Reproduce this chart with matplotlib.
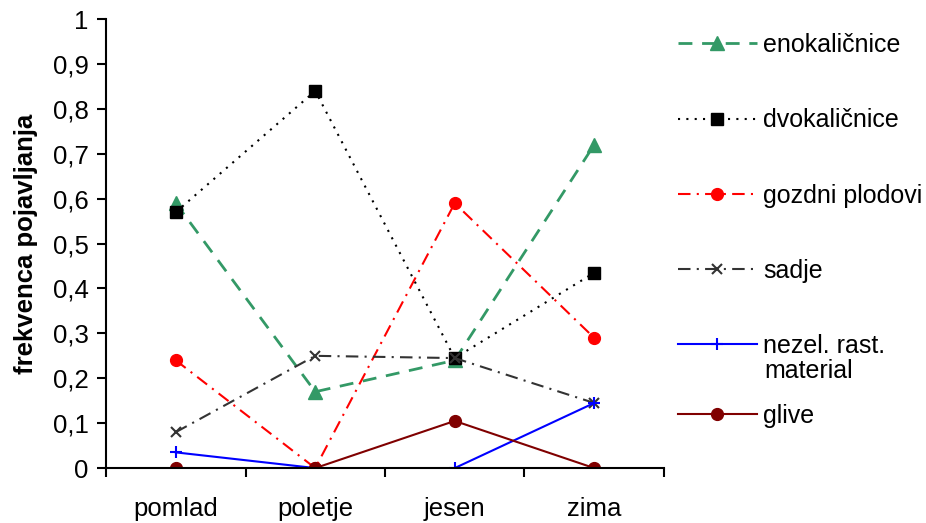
import numpy as np
import matplotlib.pyplot as plt

plt.rcParams['font.family'] = ['Liberation Sans', 'DejaVu Sans']

# -------------------------------------------
# Data
# -------------------------------------------
seasons = ["pomlad", "poletje", "jesen", "zima"]
enokalicnice = [0.59, 0.17, 0.24, 0.72]
dvokalicnice = [0.57, 0.84, 0.245, 0.435]
gozdni_plodovi = [0.24, 0.0, 0.59, 0.29]
sadje = [0.08, 0.25, 0.245, 0.145]
nezel_material = [0.035, 0.0, 0.0, 0.145]
glive = [0.0, 0.0, 0.105, 0.0]
y_ticks = [0, 0.1, 0.2, 0.3, 0.4, 0.5, 0.6, 0.7, 0.8, 0.9, 1]

FS = 18.5
LEG_FS = 18

fig = plt.figure(figsize=(9.26, 5.23), dpi=100)
ax = fig.add_axes([0.1145, 0.105, 0.6025, 0.8585])

x = np.arange(len(seasons))

ax.plot(x, enokalicnice, color='#339966', lw=2, dashes=(5, 3.5),
        marker='^', ms=10, label='enokaličnice')
ax.plot(x, dvokalicnice, color='black', lw=1.5, dashes=(1, 3),
        marker='s', ms=8.5, label='dvokaličnice')
ax.plot(x, gozdni_plodovi, color='#ff0000', lw=1.5, dashes=(6, 3, 1, 3),
        marker='o', ms=8.5, label='gozdni plodovi')
ax.plot(x, sadje, color='#333333', lw=1.5, dashes=(6, 3, 1, 3),
        marker='x', ms=7, mew=1.5, label='sadje')
ax.plot(x, nezel_material, color='#0000ff', lw=1.5,
        marker='+', ms=9, mew=1.5, label='nezel. rast.')
ax.plot(x, glive, color='#800000', lw=1.5,
        marker='o', ms=8.5, label='glive')

ax.set_xlim(-0.5, len(seasons) - 0.5)
ax.set_ylim(0, 1)
ax.set_xticks(x)
ax.set_xticklabels(seasons, fontsize=FS)
ax.set_xticks(np.arange(-0.5, len(seasons), 1), minor=True)
ax.tick_params(axis='x', which='major', length=0, pad=21)
ax.tick_params(axis='x', which='minor', length=6.5, width=1.5, direction='out')
ax.set_yticks(y_ticks)
ax.set_yticklabels([f"{t:g}".replace('.', ',') for t in y_ticks], fontsize=FS)
ax.tick_params(axis='y', length=6.5, width=1.5, direction='out', pad=6)

for s in ['top', 'right']:
    ax.spines[s].set_visible(False)
for s in ['left', 'bottom']:
    ax.spines[s].set_linewidth(1.5)

ax.set_ylabel('frekvenca pojavljanja', fontsize=FS, fontweight='bold', labelpad=11)

# legend: handle sits on the first line of the two-line label, as in Excel
handles, labels = ax.get_legend_handles_labels()
leg_kw = dict(frameon=False, fontsize=LEG_FS, handlelength=3.15, handletextpad=0.25,
              borderpad=0, borderaxespad=0, loc='upper left',
              bbox_transform=fig.transFigure)
leg1 = ax.legend(handles[:5], labels[:5], bbox_to_anchor=(678 / 926, 1 - 33 / 523),
                 labelspacing=2.05, **leg_kw)
ax.add_artist(leg1)
ax.legend(handles[5:], labels[5:], bbox_to_anchor=(678 / 926, 1 - 404 / 523), **leg_kw)
fig.text(764 / 926, 1 - 371 / 523, 'material', fontsize=LEG_FS, va='center', ha='left')

fig.savefig('out.png', dpi=100)
